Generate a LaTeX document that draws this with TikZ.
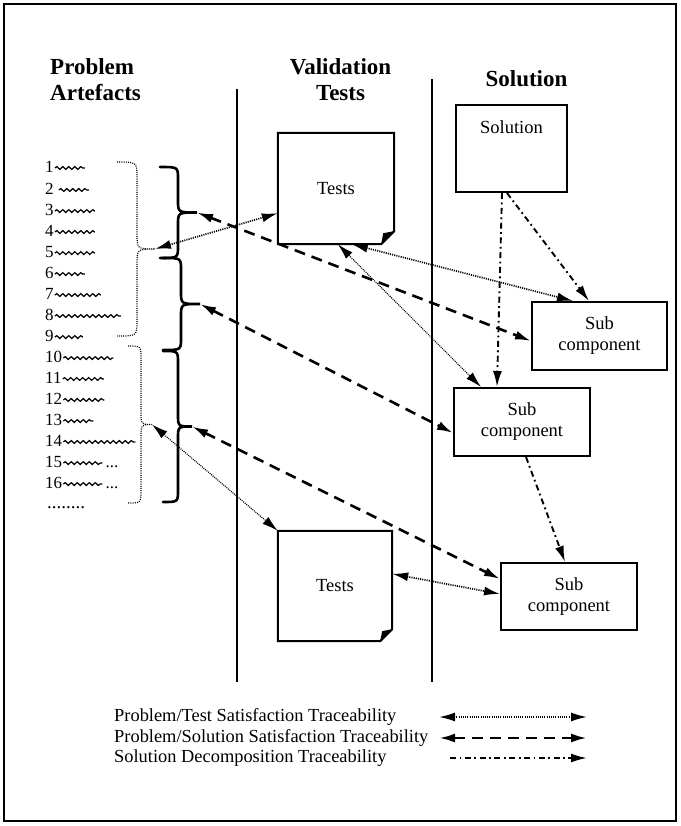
\documentclass[tikz,border=0pt]{standalone}
\usepackage{fontspec}
\setmainfont{Liberation Serif}
\usetikzlibrary{arrows.meta,calc,decorations.pathmorphing}
\newcommand\hdrfont{\fontsize{23}{26}\selectfont\bfseries}
\newcommand\boxfont{\fontsize{18.5}{21}\selectfont}
\newcommand\legfont{\fontsize{18.4}{20.5}\selectfont}
\newcommand\numfont{\fontsize{17}{21}\selectfont}
\newcommand\mybrace[7][]{%
  \draw[#1] (#2,#3) .. controls ({#2+#5},#3) .. ({#2+#5},{#3+#7})
    -- ({#2+#5},{(#3+#4)/2-#7}) .. controls ({#2+#5},{(#3+#4)/2}) .. ({#2+#6},{(#3+#4)/2})
    .. controls ({#2+#5},{(#3+#4)/2}) .. ({#2+#5},{(#3+#4)/2+#7})
    -- ({#2+#5},{#4-#7}) .. controls ({#2+#5},#4) .. (#2,#4);}
\begin{document}
\begin{tikzpicture}[x=1pt,y=-1pt,
  >={Latex[length=16pt,width=9pt]},
  frame/.style={line width=1.6pt},
  vline/.style={line width=1.8pt},
  hdr/.style={font=\hdrfont, inner sep=0pt},
  box/.style={draw, line width=2pt, font=\boxfont, align=center, inner sep=0pt},
  testsnode/.style={font=\boxfont, inner sep=0pt},
  boxline/.style={line width=2pt, line join=miter},
  numtxt/.style={font=\numfont, inner sep=0pt, anchor=base west},
  wave/.style={line width=1.2pt, decorate, decoration={snake, segment length=6pt, amplitude=1.4pt}},
  bigbrace/.style={line width=2.6pt, line cap=round},
  dotbrace/.style={line width=1.2pt, dash pattern=on 1pt off 1.2pt},
  pt/.style={<->, line width=1.7pt, dash pattern=on 1.1pt off 1.1pt},
  ptthin/.style={<->, line width=1.1pt, dash pattern=on 1pt off 1pt},
  ps/.style={<->, line width=2.6pt, dash pattern=on 11pt off 7pt},
  sd/.style={->, line width=1.9pt, dash pattern=on 6pt off 3.5pt on 1.8pt off 3.5pt},
  legtxt/.style={font=\legfont, inner sep=0pt, anchor=west}
]
\useasboundingbox (0,0) rectangle (680,826);
\draw[frame] (4,4) rectangle (676,821);

% headers
\node[hdr, align=left, anchor=west] (hprob) at (50,80) {Problem\\Artefacts};
\node[hdr, align=center] (hval) at (340.5,80) {Validation\\Tests};
\node[hdr] (hsol) at (526.5,79) {Solution};

% column separators
\draw[vline] (237,89) -- (237,682);
\draw[vline] (432,79) -- (432,682);

% problem artefact list
\foreach \n/\y/\g/\l in {1/167/1/30, 2/189/5/30, 3/210/1/40, 4/231/1/40, 5/252/1/40,
  6/273/1/30, 7/294/1/46, 8/315/1/66, 9/336/1/28, 10/357/1/50, 11/378/1/41,
  12/399/1/41, 13/420/1/30, 14/441/1/72, 15/462/1/39, 16/483/1/39}{
  \node[numtxt] (i\n) at (45,{\y+5.6}) {\n};
  \draw[wave] ($(i\n.east)+(\g,1)$) -- ++(\l,0);
}
\node[numtxt] (e15) at ($(i15.base east)+(43,0)$) {...};
\node[numtxt] (e16) at ($(i16.base east)+(43,0)$) {...};
\node[numtxt, font=\fontsize{19}{21}\selectfont] (idots) at (47,508) {........};

% braces
\mybrace[bigbrace]{160}{167}{258}{18}{37}{12}
\mybrace[bigbrace]{163}{258}{350}{18}{37}{12}
\mybrace[bigbrace]{163}{351}{502}{15}{29}{12}
\mybrace[dotbrace]{117}{162}{336}{20}{38}{16}
\mybrace[dotbrace]{128}{346}{503}{13}{24}{13}
\coordinate (bA) at (197,212.5);
\coordinate (bB) at (200,304);
\coordinate (bC) at (192,426.5);
\coordinate (dA) at (155,249);
\coordinate (dB) at (152,424.5);

% tests documents
\node[testsnode, minimum width=116pt, minimum height=111pt] (t1) at (336,188.5) {Tests};
\draw[boxline] (t1.south west) -- (t1.north west) -- (t1.north east)
  -- ($(t1.south east)+(0,-13)$) -- ($(t1.south east)+(-13,0)$) -- cycle;
\fill ($(t1.south east)+(-13,0)$) -- ($(t1.south east)+(0,-13)$) -- ($(t1.south east)+(-11,-11)$) -- cycle;

\node[testsnode, minimum width=114pt, minimum height=110pt] (t2) at (335,586) {Tests};
\draw[boxline] (t2.south west) -- (t2.north west) -- (t2.north east)
  -- ($(t2.south east)+(0,-12)$) -- ($(t2.south east)+(-12,0)$) -- cycle;
\fill ($(t2.south east)+(-12,0)$) -- ($(t2.south east)+(0,-12)$) -- ($(t2.south east)+(-10,-10)$) -- cycle;

% solution boxes
\node[box, minimum width=111pt, minimum height=87pt] (sol) at (511.5,148.5) {};
\node[testsnode] (soltxt) at ($(sol.north)+(0,23)$) {Solution};
\node[box, minimum width=135pt, minimum height=68pt] (sc1) at (599.5,336) {Sub\\component};
\node[box, minimum width=136pt, minimum height=68pt] (sc2) at (522,422) {Sub\\component};
\node[box, minimum width=136pt, minimum height=67pt] (sc3) at (569,596.5) {Sub\\component};

% problem/test traceability
\draw[pt] (dA) -- ($(t1.south west)+(0,-31)$);
\draw[pt] ($(t1.south west)+(74,0)$) -- ($(sc1.north west)+(42,0)$);
\draw[ptthin] ($(t1.south west)+(60,0)$) -- ($(sc2.north west)+(28,0)$);
\draw[ptthin] (dB) -- (t2.north west);
\draw[pt] ($(t2.north east)+(0,43)$) -- ($(sc3.south west)+(0,-37)$);

% problem/solution traceability
\draw[ps] (bA) -- ($(sc1.south west)+(0,-30)$);
\draw[ps] (bB) -- ($(sc2.south west)+(0,-24)$);
\draw[ps] (bC) -- ($(sc3.north west)+(0,17)$);

% decomposition
\draw[sd] ($(sol.south west)+(47,0)$) -- ($(sc2.north west)+(44,0)$);
\draw[sd] ($(sol.south west)+(52,0)$) -- ($(sc1.north west)+(58,0)$);
\draw[sd] ($(sc2.south west)+(73,0)$) -- ($(sc3.north west)+(65,0)$);

% legend
\node[legtxt] (lg1) at (114,717) {Problem/Test Satisfaction Traceability};
\node[legtxt] (lg2) at (114,738) {Problem/Solution Satisfaction Traceability};
\node[legtxt] (lg3) at (114,758) {Solution Decomposition Traceability};
\coordinate (lg1a) at (439,717); \coordinate (lg1b) at (587,717);
\coordinate (lg2a) at (439,738); \coordinate (lg2b) at (587,738);
\coordinate (lg3a) at (450,758); \coordinate (lg3b) at (587,758);
\draw[pt] (lg1a) -- (lg1b);
\draw[ps] (lg2a) -- (lg2b);
\draw[sd] (lg3a) -- (lg3b);
\end{tikzpicture}
\end{document}
